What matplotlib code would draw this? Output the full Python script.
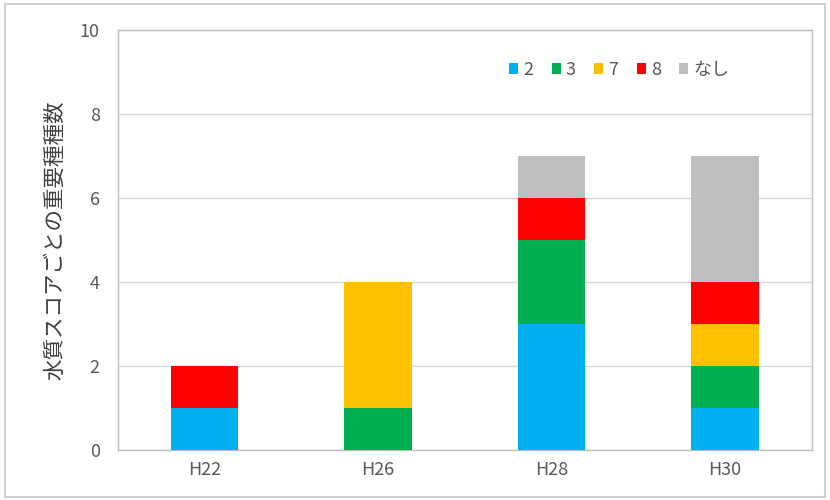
import matplotlib
matplotlib.use("Agg")
import matplotlib.pyplot as plt
from matplotlib.patches import Rectangle
import numpy as np

plt.rcParams['font.family'] = ['Noto Sans CJK JP', 'DejaVu Sans']

categories = ["H22", "H26", "H28", "H30"]
series_names = ["2", "3", "7", "8", "なし"]
s2 = [1, 0, 3, 1]
s3 = [0, 1, 2, 1]
s7 = [0, 3, 0, 1]
s8 = [1, 0, 1, 1]
s_none = [0, 0, 1, 3]
series = [s2, s3, s7, s8, s_none]
colors = ["#00B0F0", "#00B050", "#FFC000", "#FF0000", "#BFBFBF"]
yticks = [0, 2, 4, 6, 8, 10]
ylabel = "水質スコアごとの重要種種数"

fig = plt.figure(figsize=(8.3, 5), dpi=100)
fig.patches.append(Rectangle((0.006, 0.006), 0.988, 0.986, transform=fig.transFigure,
                             fill=False, edgecolor="#D0D0D0", linewidth=1.5))
ax = fig.add_axes([0.142, 0.1, 0.836, 0.84])

x = np.arange(len(categories))
bottom = np.zeros(len(categories))
for name, vals, c in zip(series_names, series, colors):
    ax.bar(x, vals, 0.39, bottom=bottom, color=c, label=name, zorder=3)
    bottom += np.array(vals)

ax.set_xlim(-0.5, len(categories) - 0.5)
ax.set_ylim(0, 10)
ax.set_yticks(yticks)
ax.set_xticks(x)
ax.set_xticklabels(categories)
ax.grid(axis='y', color="#D9D9D9", linewidth=1, zorder=0)
for sp in ax.spines.values():
    sp.set_color("#BFBFBF")
    sp.set_linewidth(1)
ax.tick_params(length=0, colors="#595959", labelsize=13)
ax.tick_params(axis='x', pad=8)
ax.tick_params(axis='y', pad=13)
ax.set_ylabel(ylabel, fontsize=15.5, color="#404040", labelpad=10)

leg = ax.legend(loc="upper right", bbox_to_anchor=(0.905, 0.965), ncol=5, frameon=False,
                fontsize=13, handlelength=0.5, handleheight=0.5, handletextpad=0.3,
                columnspacing=1.0, labelcolor="#595959")

fig.savefig("out.png", dpi=100)
